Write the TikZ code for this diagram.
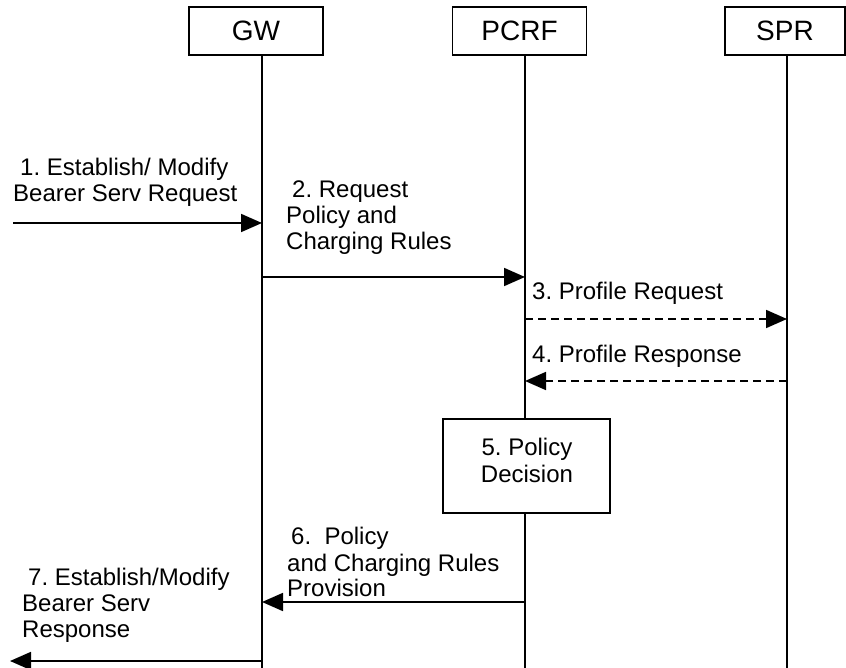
\documentclass[tikz,border=0pt]{standalone}
\usepackage{fontspec}
\setmainfont{Liberation Sans}
\usetikzlibrary{arrows.meta}
\frenchspacing
\begin{document}
\begin{tikzpicture}[x=1pt,y=-1pt,
  entity/.style={draw,line width=1.6pt,minimum width=134pt,minimum height=48pt,
    inner sep=0pt,font=\fontsize{28}{32}\selectfont},
  lifeline/.style={line width=1.5pt},
  msg/.style={line width=1.8pt,-{Triangle[length=21pt,width=18pt]}},
  dmsg/.style={msg,dash pattern=on 8pt off 5pt},
  lbl/.style={anchor=base west,inner sep=0pt,
    font=\fontsize{24}{26}\selectfont},
  actbox/.style={draw,fill=white,line width=1.6pt,minimum width=167pt,
    minimum height=94pt,inner sep=0pt},
  boxtxt/.style={anchor=base,inner sep=0pt,font=\fontsize{24}{26}\selectfont}]
\useasboundingbox (0,0) rectangle (846,668);

% entities
\node[entity] (gw)   at (256,31) {GW};
\node[entity] (pcrf) at (519.5,31) {PCRF};
\node[entity,minimum width=120pt] (spr) at (785,31) {SPR};

% lifelines
\coordinate (gwT) at (262,55);   \coordinate (gwB) at (262,668);
\coordinate (pcT) at (525,55);   \coordinate (pcB) at (525,668);
\coordinate (spT) at (787,55);   \coordinate (spB) at (787,668);
\draw[lifeline] (gwT) -- (gwB);
\draw[lifeline] (pcT) -- (pcB);
\draw[lifeline] (spT) -- (spB);

% message end points
\coordinate (m1s) at (13,223);  \coordinate (m1e) at (262,223);
\coordinate (m2s) at (262,277); \coordinate (m2e) at (525,277);
\coordinate (m3s) at (525,319); \coordinate (m3e) at (787,319);
\coordinate (m4s) at (787,381); \coordinate (m4e) at (525,381);
\coordinate (m6s) at (525,602); \coordinate (m6e) at (262,602);
\coordinate (m7s) at (262,661); \coordinate (m7e) at (10,661);

\draw[msg]  (m1s) -- (m1e);
\draw[msg]  (m2s) -- (m2e);
\draw[dmsg] (m3s) -- (m3e);
\draw[dmsg] (m4s) -- (m4e);
\draw[msg]  (m6s) -- (m6e);
\draw[msg]  (m7s) -- (m7e);

% policy decision step
\node[actbox] (pd) at (526.5,466) {};
\node[boxtxt] (pd1) at (527,455) {5. Policy};
\node[boxtxt] (pd2) at (527,482) {Decision};

% message labels
\node[lbl] (l1a) at (20,176) {1. Establish/ Modify};
\node[lbl] (l1b) at (13,202) {Bearer Serv Request};
\node[lbl] (l2a) at (292,198) {2. Request};
\node[lbl] (l2b) at (286,224) {Policy and};
\node[lbl] (l2c) at (286,250) {Charging Rules};
\node[lbl] (l3)  at (532,300) {3. Profile Request};
\node[lbl] (l4)  at (532,362) {4. Profile Response};
\node[lbl] (l6a) at (291,544) {6.\ \ Policy};
\node[lbl] (l6b) at (287,571) {and Charging Rules};
\node[lbl] (l6c) at (287,596) {Provision};
\node[lbl] (l7a) at (28,585) {7. Establish/Modify};
\node[lbl] (l7b) at (22,611) {Bearer Serv};
\node[lbl] (l7c) at (22,637) {Response};
\end{tikzpicture}
\end{document}
